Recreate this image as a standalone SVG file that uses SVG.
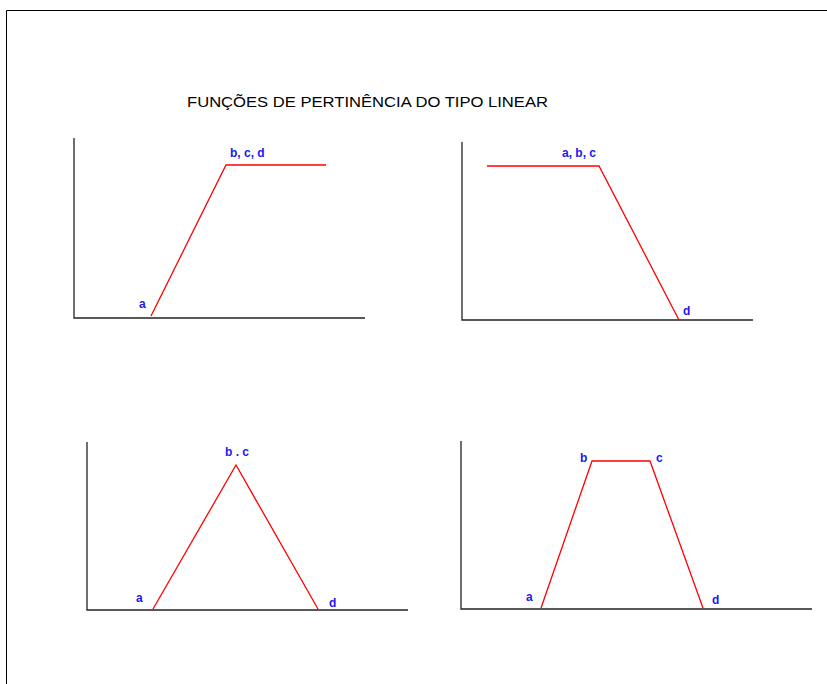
<svg xmlns="http://www.w3.org/2000/svg" width="827" height="684" viewBox="0 0 827 684">
<style>
.frame{stroke:#000;stroke-width:1;fill:none}
.axis{stroke:#222;stroke-width:1.3;fill:none}
.mf{stroke:#ff0000;stroke-width:1.3;fill:none;stroke-linejoin:miter}
.lbl{font-family:"Liberation Sans",Arial,sans-serif;font-weight:bold;font-size:12px;fill:#1a1aee}
.title{font-family:"Liberation Sans",Arial,sans-serif;font-size:15px;fill:#000}
</style>
<rect width="827" height="684" fill="#fff"/>
<path class="frame" d="M6.5,684 V10.5 H827"/>
<text class="title" x="187" y="107" textLength="361" lengthAdjust="spacingAndGlyphs">FUNÇÕES DE PERTINÊNCIA DO TIPO LINEAR</text>
<g id="connectors">
<g id="panel1">
<path class="axis" d="M74,138 V318 H365"/>
<path class="mf" d="M151,316 L226,165 H326"/>
</g>
<g id="panel2">
<path class="axis" d="M462,142 V320 H753"/>
<path class="mf" d="M487,166 H599 L679,320"/>
</g>
<g id="panel3">
<path class="axis" d="M87,442 V610 H408"/>
<path class="mf" d="M153,609 L236,465 L318,609"/>
</g>
<g id="panel4">
<path class="axis" d="M461,441 V609 H812"/>
<path class="mf" d="M541,608 L592,461 H650 L703,608"/>
</g>
</g>
<g id="labels1"><text class="lbl" x="139" y="308">a</text><text class="lbl" x="230" y="157">b, c, d</text></g>
<g id="labels2"><text class="lbl" x="562" y="157">a, b, c</text><text class="lbl" x="683" y="315">d</text></g>
<g id="labels3"><text class="lbl" x="136" y="602">a</text><text class="lbl" x="225" y="456">b . c</text><text class="lbl" x="329" y="607">d</text></g>
<g id="labels4"><text class="lbl" x="580" y="462">b</text><text class="lbl" x="656" y="462">c</text><text class="lbl" x="526" y="601">a</text><text class="lbl" x="712" y="604">d</text></g>
</svg>
